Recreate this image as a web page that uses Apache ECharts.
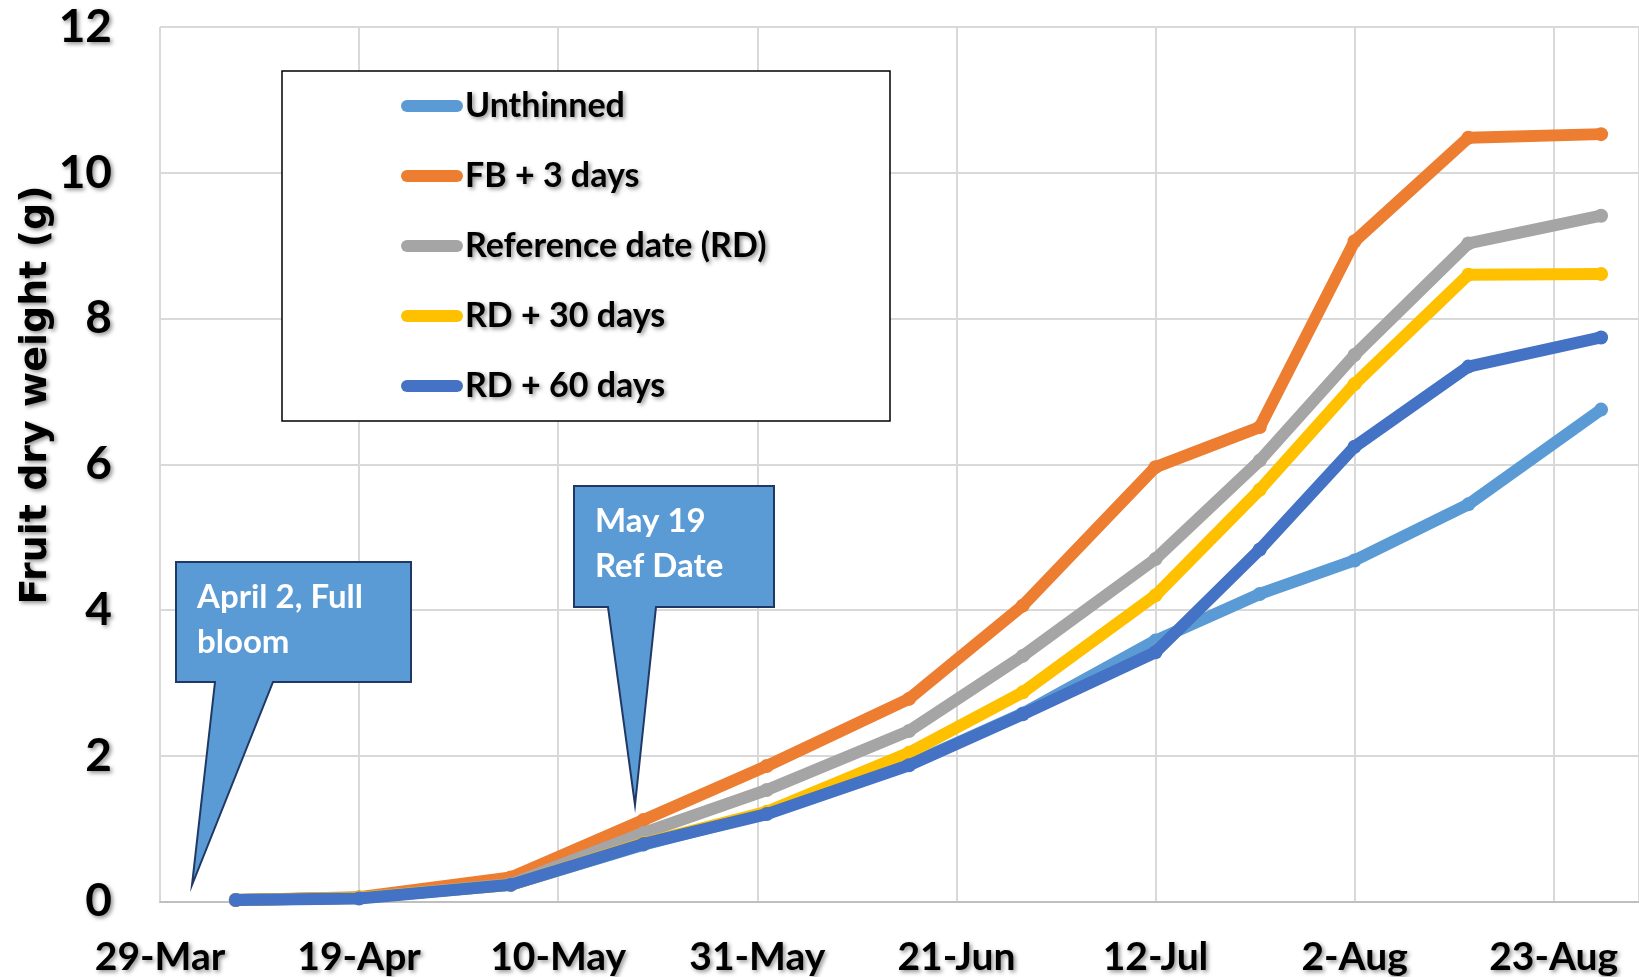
<!DOCTYPE html>
<html>
<head>
<meta charset="utf-8">
<title>Fruit dry weight</title>
<script src="https://cdn.jsdelivr.net/npm/echarts@6/dist/echarts.min.js"></script>
<style>
  html, body { margin: 0; padding: 0; background: #ffffff; }
  #chart { width: 1639px; height: 977px; }
</style>
</head>
<body>
<div id="chart"></div>
<script>
// Axis origin and sampling dates
const startDate = '2019-03-29';
const endDate = '2019-09-01';
const tickStepDays = 21;
const sampleDates = ['2019-04-06', '2019-04-19', '2019-05-05', '2019-05-19', '2019-06-01', '2019-06-16',
                     '2019-06-28', '2019-07-12', '2019-07-23', '2019-08-02', '2019-08-14', '2019-08-28'];

// Fruit dry weight (g) per treatment
const unthinned = [0.02, 0.05, 0.23, 0.78, 1.22, 1.88, 2.58, 3.58, 4.22, 4.68, 5.45, 6.75];
const fbPlus3   = [0.02, 0.06, 0.33, 1.12, 1.86, 2.78, 4.06, 5.96, 6.51, 9.06, 10.48, 10.53];
const refDate   = [0.02, 0.05, 0.24, 0.94, 1.53, 2.34, 3.37, 4.70, 6.05, 7.50, 9.03, 9.41];
const rdPlus30  = [0.02, 0.05, 0.23, 0.80, 1.23, 2.04, 2.87, 4.20, 5.65, 7.10, 8.60, 8.61];
const rdPlus60  = [0.02, 0.04, 0.23, 0.79, 1.20, 1.87, 2.57, 3.42, 4.83, 6.24, 7.34, 7.74];

const seriesNames = ['Unthinned', 'FB + 3 days', 'Reference date (RD)', 'RD + 30 days', 'RD + 60 days'];
const seriesValues = [unthinned, fbPlus3, refDate, rdPlus30, rdPlus60];
const seriesColors = ['#5B9BD5', '#ED7D31', '#A5A5A5', '#FFC000', '#4472C4'];

const yMin = 0, yMax = 12, yStep = 2;
const yTitle = 'Fruit dry weight (g)';
const bloomNote = ['April 2, Full', 'bloom'];
const refNote = ['May 19', 'Ref Date'];

const DAY_MS = 86400000;
const MONTHS = ['Jan', 'Feb', 'Mar', 'Apr', 'May', 'Jun', 'Jul', 'Aug', 'Sep', 'Oct', 'Nov', 'Dec'];
const t0 = Date.parse(startDate + 'T00:00:00Z');
function dayOffset(s) { return Math.round((Date.parse(s + 'T00:00:00Z') - t0) / DAY_MS); }
function dayLabel(d) {
  const dt = new Date(t0 + d * DAY_MS);
  return dt.getUTCDate() + '-' + MONTHS[dt.getUTCMonth()];
}
const xDays = sampleDates.map(dayOffset);

const labelFont = 'Lato, "Open Sans", sans-serif';
const shadowText = {
  textShadowColor: 'rgba(0,0,0,0.45)',
  textShadowBlur: 4,
  textShadowOffsetX: 2,
  textShadowOffsetY: 2
};

const chart = echarts.init(document.getElementById('chart'), null, { renderer: 'canvas' });

const series = seriesNames.map((name, i) => ({
  name: name,
  type: 'line',
  data: xDays.map((d, k) => [d, seriesValues[i][k]]),
  symbol: 'circle',
  symbolSize: 14,
  showSymbol: true,
  lineStyle: { width: 12, color: seriesColors[i], cap: 'round', join: 'round' },
  itemStyle: { color: seriesColors[i], borderWidth: 0 },
  emphasis: { disabled: true },
  animation: false,
  z: 2 + i
}));

// Callout shapes: a box with a pointer ending at the tip
function callout(box, base, tip) {
  const [x0, y0, x1, y1] = box;
  return {
    type: 'polygon',
    z: 10,
    shape: {
      points: [[x0, y0], [x1, y0], [x1, y1], [base[1], y1], tip, [base[0], y1], [x0, y1]]
    },
    style: { fill: '#5B9BD5', stroke: '#203864', lineWidth: 2, lineJoin: 'miter' }
  };
}
function noteText(x, y, text) {
  return {
    type: 'text', z: 11, x: x, y: y,
    style: {
      text: text, fill: '#ffffff',
      fontFamily: labelFont, fontWeight: 'bold', fontSize: 33,
      align: 'left', verticalAlign: 'middle'
    }
  };
}

const option = {
  backgroundColor: '#ffffff',
  animation: false,
  grid: { left: 160, right: -2, top: 27, bottom: 75.5, containLabel: false },
  xAxis: {
    type: 'value',
    min: dayOffset(startDate),
    max: dayOffset(endDate),
    interval: tickStepDays,
    axisLine: { show: true, lineStyle: { color: '#BFBFBF', width: 2 } },
    axisTick: { show: false },
    splitLine: { show: true, lineStyle: { color: '#D9D9D9', width: 2 } },
    axisLabel: Object.assign({
      showMaxLabel: false,
      margin: 36,
      color: '#000000',
      fontFamily: labelFont,
      fontWeight: 'bold',
      fontSize: 39,
      formatter: (v) => dayLabel(v)
    }, shadowText)
  },
  yAxis: {
    type: 'value',
    min: yMin, max: yMax, interval: yStep,
    axisLine: { show: false },
    axisTick: { show: false },
    splitLine: { show: true, lineStyle: { color: '#D9D9D9', width: 2 } },
    axisLabel: Object.assign({
      margin: 48,
      color: '#000000',
      fontFamily: labelFont,
      fontWeight: 'bold',
      fontSize: 46
    }, shadowText)
  },
  legend: {
    data: seriesNames,
    orient: 'vertical',
    left: 401,
    top: 86,
    padding: 0,
    itemGap: 30,
    itemWidth: 62,
    itemHeight: 12,
    icon: 'path://M6,0 H56 A6,6 0 0 1 56,12 H6 A6,6 0 0 1 6,0 Z',
    selectedMode: false,
    z: 20,
    textStyle: Object.assign({
      color: '#000000',
      fontFamily: labelFont,
      fontWeight: 'bold',
      fontSize: 34,
      lineHeight: 40,
      padding: [0, 0, 0, -3]
    }, shadowText)
  },
  graphic: [
    {
      type: 'rect', z: 15,
      shape: { x: 282, y: 71, width: 608, height: 350 },
      style: { fill: '#ffffff', stroke: '#000000', lineWidth: 1.5 }
    },
    {
      type: 'text', z: 12, x: 36, y: 395, rotation: Math.PI / 2,
      style: {
        text: yTitle, fill: '#000000',
        fontFamily: '"DejaVu Sans", Verdana, sans-serif', fontWeight: 'bold', fontSize: 38,
        align: 'center', verticalAlign: 'middle',
        textShadowColor: 'rgba(0,0,0,0.45)', textShadowBlur: 4, textShadowOffsetX: 2, textShadowOffsetY: 2
      }
    },
    callout([176, 562, 411, 682], [215, 273], [192, 885]),
    noteText(197, 597, bloomNote[0]),
    noteText(197, 642, bloomNote[1]),
    callout([574, 486, 774, 607], [608, 656], [635, 805]),
    noteText(595, 521, refNote[0]),
    noteText(595, 566, refNote[1])
  ],
  series: series
};

chart.setOption(option);
</script>
</body>
</html>
